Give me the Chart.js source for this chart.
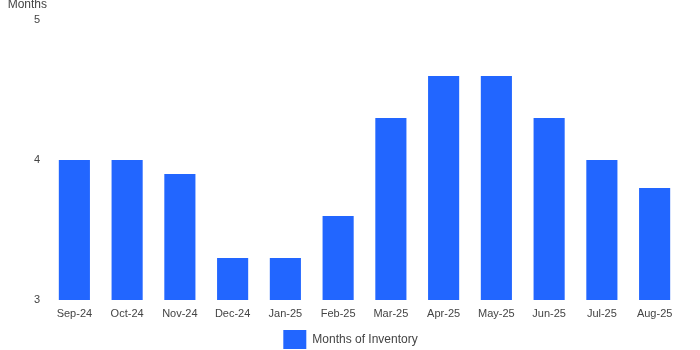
<!DOCTYPE html>
<html>
<head>
<meta charset="utf-8">
<script src="https://cdn.jsdelivr.net/npm/chart.js@4"></script>
<style>
  body { margin: 0; background: #fff; }
  #wrap { width: 700px; height: 350px; }
</style>
</head>
<body>
<div id="wrap"><canvas id="chart" width="700" height="350"></canvas></div>
<script>
// chart data
var months = ['Sep-24', 'Oct-24', 'Nov-24', 'Dec-24', 'Jan-25', 'Feb-25',
              'Mar-25', 'Apr-25', 'May-25', 'Jun-25', 'Jul-25', 'Aug-25'];
var inventory = [4.0, 4.0, 3.9, 3.3, 3.3, 3.6, 4.3, 4.6, 4.6, 4.3, 4.0, 3.8];
var yTicks = [3, 4, 5];

var textColor = '#444444';
Chart.defaults.font.family = "'Liberation Sans', Arial, sans-serif";
Chart.defaults.font.size = 11;
Chart.defaults.color = textColor;

// draws the "Months" unit label at the top left
var unitLabel = {
  id: 'unitLabel',
  afterDraw: function (chart) {
    var ctx = chart.ctx;
    ctx.save();
    ctx.font = "12px 'Liberation Sans', Arial, sans-serif";
    ctx.fillStyle = textColor;
    ctx.textAlign = 'right';
    ctx.textBaseline = 'middle';
    ctx.fillText('Months', 47, 5);
    ctx.restore();
  }
};

// legend is centred on the whole canvas, not the padded area
var legendShift = {
  id: 'legendShift',
  afterLayout: function (chart) {
    chart.legend.left += 10;
    chart.legend.right += 10;
  }
};

var ctx = document.getElementById('chart').getContext('2d');
new Chart(ctx, {
  type: 'bar',
  data: {
    labels: months,
    datasets: [{
      label: 'Months of Inventory',
      data: inventory,
      backgroundColor: '#2266ff',
      barPercentage: 0.59,
      categoryPercentage: 1.0
    }]
  },
  options: {
    responsive: false,
    animation: false,
    layout: { padding: { top: 20, right: 19, left: 0, bottom: -9 } },
    scales: {
      x: {
        afterFit: function (scale) { scale.height = 29; },
        grid: { display: false, drawTicks: false },
        border: { display: false },
        ticks: { padding: 7, color: textColor, maxRotation: 0 }
      },
      y: {
        min: 3,
        max: 5,
        afterBuildTicks: function (scale) {
          scale.ticks = yTicks.map(function (v) { return { value: v }; });
        },
        afterFit: function (scale) { scale.width = 48; },
        grid: { display: false, drawTicks: false },
        border: { display: false },
        ticks: { padding: 8, color: textColor }
      }
    },
    plugins: {
      legend: {
        position: 'bottom',
        labels: {
          boxWidth: 23,
          boxHeight: 19,
          padding: 1,
          color: textColor,
          font: { size: 12 }
        }
      },
      tooltip: { enabled: false }
    }
  },
  plugins: [unitLabel, legendShift]
});
</script>
</body>
</html>
